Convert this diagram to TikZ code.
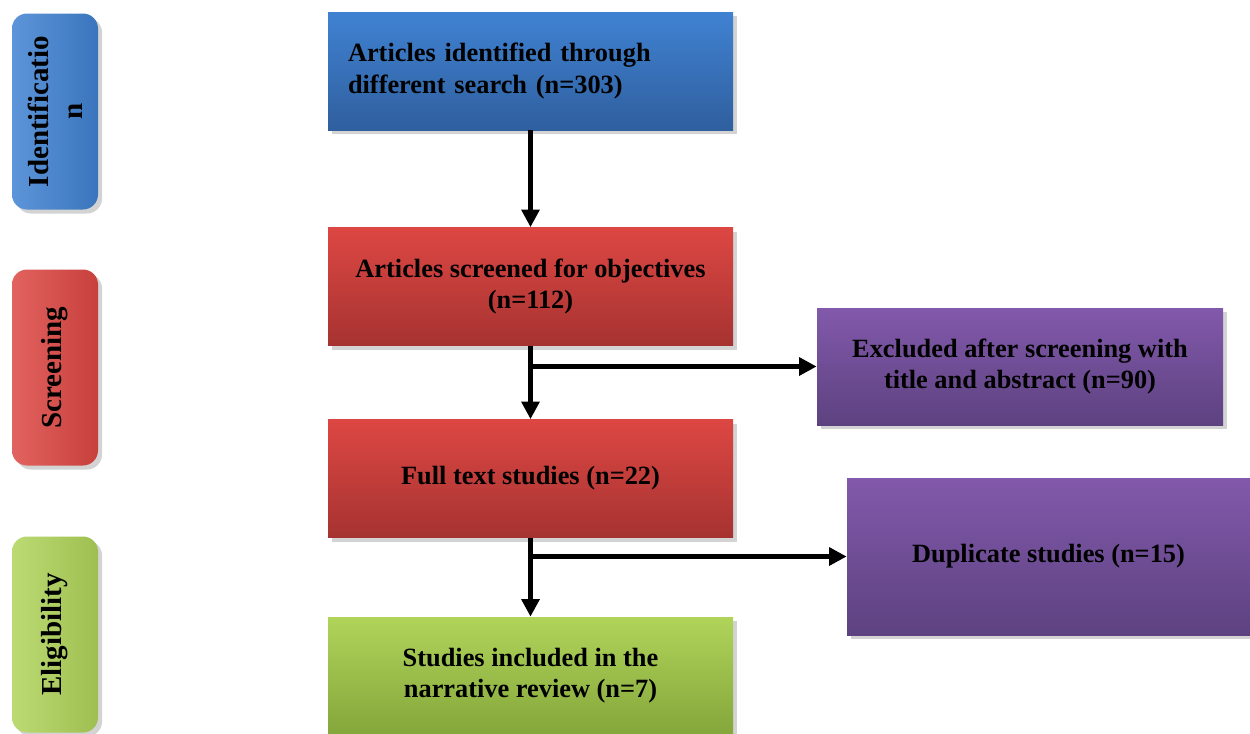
\documentclass[tikz,border=0pt]{standalone}
\usepackage{fontspec}
\setmainfont{Liberation Serif}
\usetikzlibrary{arrows.meta,shadows}

\definecolor{blueTop}{HTML}{4082D2}
\definecolor{blueBot}{HTML}{2F5F9E}
\definecolor{redTop}{HTML}{DD4743}
\definecolor{redBot}{HTML}{A63331}
\definecolor{greenTop}{HTML}{B0D45A}
\definecolor{greenBot}{HTML}{84A63B}
\definecolor{purpleTop}{HTML}{8259AB}
\definecolor{purpleBot}{HTML}{5D4280}

\tikzset{
    box/.style={minimum width=8.1cm, minimum height=2.36cm, align=center,
        font=\bfseries\fontsize{15}{17.8}\selectfont, drop shadow={opacity=0.35}},
    phase/.style={rotate=90, rounded corners=0.3cm, minimum width=3.92cm, minimum height=1.72cm,
        align=center, font=\bfseries\fontsize{16.5}{19.5}\selectfont, drop shadow={opacity=0.35}},
    flow/.style={line width=2.6pt, -{Triangle[length=10pt,width=10pt]}}
}

\begin{document}
\begin{tikzpicture}
    \useasboundingbox (0,0) rectangle (25,-14.66);

    % phases on the left
    \node[phase, left color=blueTop!85!white, right color=blueTop!90!black] (ident) at (1.1,-2.23) {Identificatio\\n};
    \node[phase, left color=redTop!85!white, right color=redTop!90!black] (screen) at (1.1,-7.35) {Screening};
    \node[phase, left color=greenTop!85!white, right color=greenTop!90!black] (elig) at (1.1,-12.69) {Eligibility};

    % main boxes
    \node[box, top color=blueTop, bottom color=blueBot, text width=7.3cm, align=left] (found) at (10.61,-1.42) {Articles identified through\\different search (n=303)};
    \node[box, top color=redTop, bottom color=redBot] (screened) at (10.61,-5.73) {Articles screened for objectives\\(n=112)};
    \node[box, top color=redTop, bottom color=redBot] (fulltext) at (10.61,-9.57) {Full text studies (n=22)};
    \node[box, top color=greenTop, bottom color=greenBot] (included) at (10.61,-13.52) {Studies included in the\\narrative review (n=7)};

    % excluded
    \node[box, top color=purpleTop, bottom color=purpleBot, minimum width=8.12cm, minimum height=2.34cm] (excl) at (20.4,-7.33) {Excluded after screening with\\title and abstract (n=90)};
    \node[box, top color=purpleTop, bottom color=purpleBot, minimum width=8.06cm, minimum height=3.14cm] (dupl) at (20.97,-11.13) {Duplicate studies (n=15)};

    \draw[flow] (found) -- (screened);
    \draw[flow] (screened) -- (fulltext);
    \draw[flow] (fulltext) -- (included);
    \draw[flow] (screened.south |- excl.west) -- (excl.west);
    \draw[flow] (fulltext.south |- dupl.west) -- (dupl.west);
\end{tikzpicture}
\end{document}
